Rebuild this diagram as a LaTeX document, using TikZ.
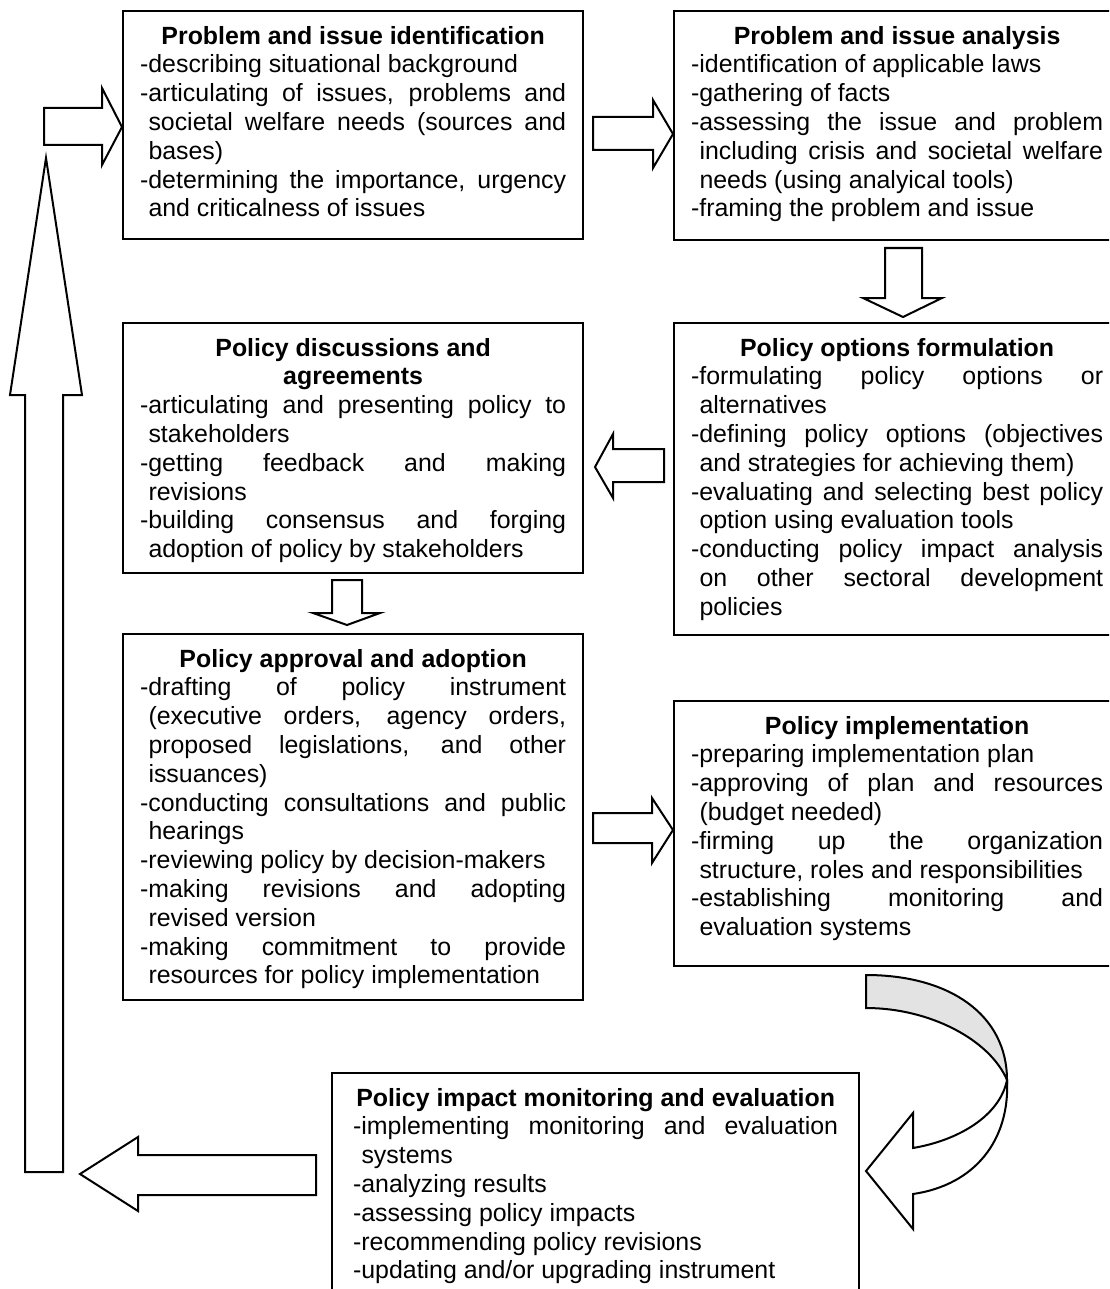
\documentclass[tikz,border=0pt]{standalone}
\usepackage{fontspec}
\setmainfont{Liberation Sans}
\newcommand{\hd}[1]{{\centering\bfseries #1\par}}
\newcommand{\stp}[1]{\par\hangindent=4.2pt\hangafter=1 -#1\par}
\tikzset{
  stage/.style={draw, line width=1.1pt, anchor=north west, inner xsep=8.5pt, inner ysep=0pt,
    text height=16.5pt, align=justify,
    font={\fontsize{12.45}{14.4}\selectfont\tolerance=10000\hyphenpenalty=10000\exhyphenpenalty=10000}},
  blockarrow/.style={draw, line width=1pt, fill=white, line join=miter}
}
\begin{document}
\begin{tikzpicture}[x=0.5pt, y=-0.5pt]
        \path[use as bounding box, clip] (0,0) rectangle (1109,1289);
        % left column
        \node[stage, text width=213pt, text depth=97.5pt] (ident) at (122,10) {\hd{Problem and issue identification}
                \stp{describing situational background}
                \stp{articulating of issues, problems and\linebreak societal welfare needs (sources and\linebreak bases)}
                \stp{determining the importance, urgency\linebreak and criticalness of issues}};
        \node[stage, text width=213pt, text depth=108.5pt] (discuss) at (122,322) {\hd{Policy discussions and\\agreements}
                \stp{articulating and presenting policy to\linebreak stakeholders}
                \stp{getting feedback and making\linebreak revisions}
                \stp{building consensus and forging\linebreak adoption of policy by stakeholders}};
        \node[stage, text width=213pt, text depth=166.5pt] (approval) at (122,633) {\hd{Policy approval and adoption}
                \stp{drafting of policy instrument\linebreak (executive orders, agency orders,\linebreak proposed legislations, and other\linebreak issuances)}
                \stp{conducting consultations and public\linebreak hearings}
                \stp{reviewing policy by decision-makers}
                \stp{making revisions and adopting\linebreak revised version}
                \stp{making commitment to provide\linebreak resources for policy implementation}};
        % right column
        \node[stage, text width=206pt, text depth=98pt] (analysis) at (673,10) {\hd{Problem and issue analysis}
                \stp{identification of applicable laws}
                \stp{gathering of facts}
                \stp{assessing the issue and problem\linebreak including crisis and societal welfare\linebreak needs (using analyical tools)}
                \stp{framing the problem and issue}};
        \node[stage, text width=206pt, text depth=139.5pt] (options) at (673,322) {\hd{Policy options formulation}
                \stp{formulating policy options or\linebreak alternatives}
                \stp{defining policy options (objectives\linebreak and strategies for achieving them)}
                \stp{evaluating and selecting best policy\linebreak option using evaluation tools}
                \stp{conducting policy impact analysis\linebreak on other sectoral development\linebreak policies}};
        \node[stage, text width=206pt, text depth=116pt] (implement) at (673,700) {\hd{Policy implementation}
                \stp{preparing implementation plan}
                \stp{approving of plan and resources\linebreak (budget needed)}
                \stp{firming up the organization\linebreak structure, roles and responsibilities}
                \stp{establishing monitoring and\linebreak evaluation systems}};
        % bottom
        \node[stage, text width=242.5pt, inner xsep=10.5pt, text depth=100pt] (monitor) at (331,1072) {\hd{Policy impact monitoring and evaluation}
                \stp{implementing monitoring and evaluation\linebreak systems}
                \stp{analyzing results}
                \stp{assessing policy impacts}
                \stp{recommending policy revisions}
                \stp{updating and/or upgrading instrument}};
        % block arrows
        \draw[blockarrow] (44,108) -- (102,108) -- (102,88) -- (122,127) -- (102,165) -- (102,145) -- (44,145) -- cycle;
        \draw[blockarrow] (593,117) -- (653,117) -- (653,100) -- (673,134) -- (653,168) -- (653,150) -- (593,150) -- cycle;
        \draw[blockarrow] (885,248) -- (922,248) -- (922,298) -- (942,298) -- (903,317) -- (863,298) -- (885,298) -- cycle;
        \draw[blockarrow] (664,449) -- (613,449) -- (613,434) -- (595,467) -- (613,498) -- (613,482) -- (664,482) -- cycle;
        \draw[blockarrow] (332,580) -- (362,580) -- (362,613) -- (380,613) -- (347,625) -- (313,613) -- (332,613) -- cycle;
        \draw[blockarrow] (593,813) -- (652,813) -- (652,798) -- (673,830) -- (652,863) -- (652,843) -- (593,843) -- cycle;
        \draw[blockarrow] (316,1155) -- (138,1155) -- (138,1137) -- (80,1174) -- (138,1211) -- (138,1195) -- (316,1195) -- cycle;
        \draw[blockarrow] (25,1172) -- (25,395) -- (10,395) -- (46,158) -- (82,395) -- (63,395) -- (63,1172) -- cycle;
        % curved arrow
        \draw[blockarrow, fill=gray!22] (866,975) .. controls (950,975) and (1007,1015) .. (1007,1080)
                .. controls (990,1040) and (930,1008) .. (866,1008) -- cycle;
        \draw[blockarrow] (1007,1080) .. controls (1010,1140) and (975,1185) .. (913,1194) -- (913,1229) -- (866,1171)
                -- (913,1113) -- (913,1148) .. controls (960,1140) and (1000,1115) .. (1007,1080) -- cycle;
\end{tikzpicture}
\end{document}
